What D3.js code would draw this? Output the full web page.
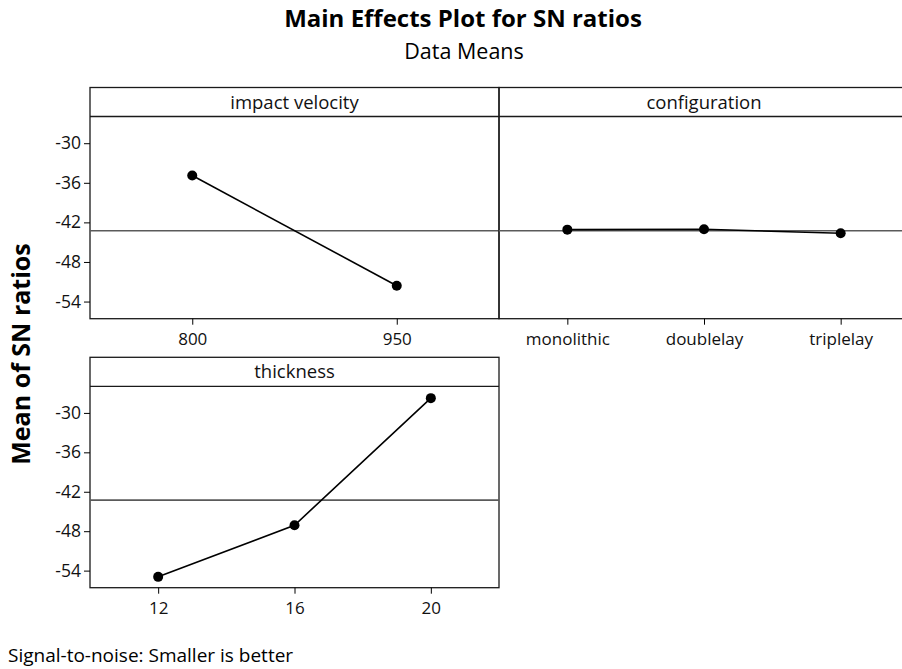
<!DOCTYPE html>
<html>
<head>
<meta charset="utf-8">
<script src="https://cdn.jsdelivr.net/npm/d3@7"></script>
<style>
  body { margin: 0; background: #fff; }
  svg { display: block; font-family: "Open Sans", sans-serif; }
</style>
</head>
<body>
<svg id="chart" width="902" height="669"></svg>
<script>
// factor levels
const velocityLevels = ["800", "950"];
const configLevels = ["monolithic", "doublelay", "triplelay"];
const thicknessLevels = ["12", "16", "20"];
// mean SN ratio per level
const velocityMeans = [-34.9, -51.6];
const configMeans = [-43.1, -43.05, -43.65];
const thicknessMeans = [-54.95, -47.1, -27.75];
// grand mean (reference line)
const grandMean = -43.27;
const yTicks = [-54, -48, -42, -36, -30];
const yDomain = [-56.6, -25.95];

const svg = d3.select("#chart");
const stripH = 29;

// panels: x0,x1 of frame, top of strip, bottom of plot
const panels = [
  { name: "impact velocity", levels: velocityLevels, values: velocityMeans, x0: 90, x1: 499, top: 87.5, bottom: 318.7, yAxis: true },
  { name: "configuration", levels: configLevels, values: configMeans, x0: 499, x1: 909, top: 87.5, bottom: 318.7, yAxis: false },
  { name: "thickness", levels: thicknessLevels, values: thicknessMeans, x0: 90, x1: 499, top: 357.3, bottom: 587.7, yAxis: true }
];

panels.forEach(p => {
  const g = svg.append("g");
  const plotTop = p.top + stripH;
  const x = d3.scalePoint().domain(p.levels).range([p.x0, p.x1]).padding(0.5);
  const y = d3.scaleLinear().domain(yDomain).range([p.bottom, plotTop]);

  // strip + frame
  g.append("rect")
    .attr("x", p.x0).attr("y", p.top)
    .attr("width", p.x1 - p.x0).attr("height", p.bottom - p.top)
    .attr("fill", "none").attr("stroke", "#1a1a1a").attr("stroke-width", 1.3);
  g.append("line")
    .attr("x1", p.x0).attr("x2", p.x1)
    .attr("y1", plotTop).attr("y2", plotTop)
    .attr("stroke", "#1a1a1a").attr("stroke-width", 1.3);
  g.append("text")
    .attr("x", (p.x0 + p.x1) / 2)
    .attr("y", p.top + 21)
    .attr("text-anchor", "middle")
    .attr("font-size", 18.5)
    .attr("fill", "#111")
    .text(p.name);

  // grand mean line
  g.append("line")
    .attr("x1", p.x0).attr("x2", p.x1)
    .attr("y1", y(grandMean)).attr("y2", y(grandMean))
    .attr("stroke", "#5a5a5a").attr("stroke-width", 1.6);

  // x axis
  const xAxis = d3.axisBottom(x).tickSize(6).tickPadding(8);
  const gx = g.append("g")
    .attr("transform", `translate(0,${p.bottom})`)
    .call(xAxis);
  gx.select(".domain").remove();
  gx.selectAll("text").attr("font-size", 17).attr("font-family", "Open Sans").attr("fill", "#111");

  // y axis
  if (p.yAxis) {
    const yAxis = d3.axisLeft(y).tickValues(yTicks).tickSize(6).tickPadding(3)
      .tickFormat(d => String(d));
    const gy = g.append("g")
      .attr("transform", `translate(${p.x0},0)`)
      .call(yAxis);
    gy.select(".domain").remove();
    gy.selectAll("text").attr("font-size", 17.5).attr("font-family", "Open Sans").attr("fill", "#111");
  }

  // data line and points
  const pts = p.levels.map((l, i) => [x(l), y(p.values[i])]);
  g.append("path")
    .attr("d", d3.line()(pts))
    .attr("fill", "none").attr("stroke", "#000").attr("stroke-width", 1.6);
  g.selectAll("circle")
    .data(pts)
    .enter()
    .append("circle")
    .attr("cx", d => d[0]).attr("cy", d => d[1])
    .attr("r", 5).attr("fill", "#000");
});

// titles
svg.append("text")
  .attr("x", 463).attr("y", 27)
  .attr("text-anchor", "middle")
  .attr("font-size", 24).attr("font-weight", "bold")
  .text("Main Effects Plot for SN ratios");
svg.append("text")
  .attr("x", 464).attr("y", 59)
  .attr("text-anchor", "middle")
  .attr("font-size", 21.5)
  .text("Data Means");
svg.append("text")
  .attr("transform", "translate(30,354) rotate(-90)")
  .attr("text-anchor", "middle")
  .attr("font-size", 25).attr("font-weight", "bold")
  .text("Mean of SN ratios");
svg.append("text")
  .attr("x", 8).attr("y", 662)
  .attr("font-size", 19)
  .text("Signal-to-noise: Smaller is better");
</script>
</body>
</html>
